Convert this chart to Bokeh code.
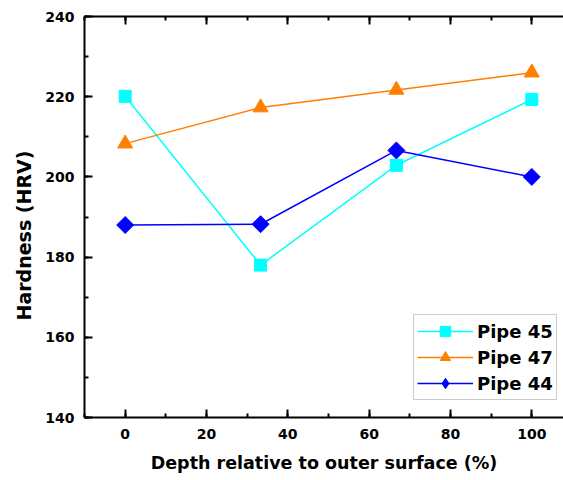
import math
from bokeh.plotting import figure
from bokeh.models import (LinearAxis, SingleIntervalTicker, Range1d, Legend, LegendItem,
                          CustomJSTickFormatter, Title)
from bokeh.embed import file_html
from bokeh.resources import INLINE

depth = [0, 33.3, 66.7, 100]
pipe45 = [220.1, 178.0, 202.9, 219.3]
pipe47 = [208.3, 217.3, 221.7, 226.0]
pipe44 = [188.0, 188.2, 206.6, 200.0]

FONT = "DejaVu Sans"

p = figure(width=563, height=480, output_backend="svg", toolbar_location=None,
           x_range=Range1d(-10, 107.8), y_range=Range1d(140, 240),
           min_border_left=84, min_border_right=0, min_border_top=16, min_border_bottom=63)
p.outline_line_color = None
p.grid.visible = False
p.background_fill_color = "white"
p.border_fill_color = "white"

p.xaxis.ticker = SingleIntervalTicker(interval=20, num_minor_ticks=2)
p.yaxis.ticker = SingleIntervalTicker(interval=20, num_minor_ticks=2)

for ax in (p.xaxis[0], p.yaxis[0]):
    ax.axis_line_width = 2
    ax.major_tick_line_width = 2
    ax.minor_tick_line_width = 2
    ax.major_tick_in = 8
    ax.major_tick_out = 0
    ax.minor_tick_in = 4
    ax.minor_tick_out = 0
    ax.major_label_text_font = FONT
    ax.major_label_text_font_style = "bold"
    ax.major_label_text_font_size = "14px"
    ax.major_label_text_color = "black"
    ax.axis_label_text_font = FONT
    ax.axis_label_text_font_style = "bold"
    ax.axis_label_text_color = "black"

p.xaxis.axis_label = "Depth relative to outer surface (%)"
p.xaxis.axis_label_text_font_size = "17.5px"
p.xaxis.major_label_standoff = 11
p.xaxis.axis_label_standoff = 11
p.yaxis.major_label_standoff = 10

ytitle = Title(text="Hardness (HRV)", align="left", offset=97,
               text_font=FONT, text_font_style="bold", text_font_size="19px",
               text_color="black", standoff=16)
p.add_layout(ytitle, "left")

top = LinearAxis(ticker=SingleIntervalTicker(interval=20, num_minor_ticks=2),
                 formatter=CustomJSTickFormatter(code="return '';"))
top.axis_line_width = 2
top.major_tick_line_width = 2
top.minor_tick_line_width = 2
top.major_tick_in = 8
top.major_tick_out = 0
top.minor_tick_in = 4
top.minor_tick_out = 0
top.major_label_standoff = 0
p.add_layout(top, "above")

series = [
    ("Pipe 45", pipe45, "#00FFFF", "square", 12, 0),
    ("Pipe 47", pipe47, "#FF7F00", "triangle", 15, 0),
    ("Pipe 44", pipe44, "#0000FF", "square", 12, math.pi / 4),
]
items = []
for name, ys, col, mk, sz, ang in series:
    r1 = p.line(depth, ys, line_color=col, line_width=1.5)
    if ang:
        # small diamond hidden under the rotated square, used for the legend symbol
        rl = p.scatter(depth, ys, marker="diamond", size=8, fill_color=col, line_color=col)
        p.scatter(depth, ys, marker=mk, size=sz, angle=ang, fill_color=col, line_color=col)
    else:
        rl = p.scatter(depth, ys, marker=mk, size=sz, fill_color=col, line_color=col)
    items.append(LegendItem(label=name, renderers=[r1, rl]))

leg = Legend(items=items, location=(329, 17))
leg.label_text_font = FONT
leg.label_text_font_style = "bold"
leg.label_text_font_size = "18px"
leg.label_text_color = "black"
leg.glyph_width = 56
leg.glyph_height = 26
leg.label_standoff = 4
leg.padding = 3
leg.margin = 0
leg.spacing = 0
leg.border_line_color = "#999999"
leg.border_line_width = 1
leg.background_fill_alpha = 1
p.add_layout(leg, "center")

open("out.html", "w").write(file_html(p, INLINE))
